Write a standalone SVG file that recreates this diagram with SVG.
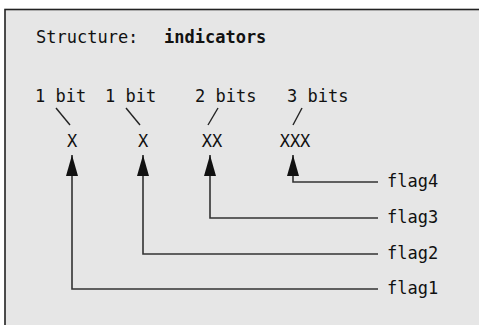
<svg xmlns="http://www.w3.org/2000/svg" width="479" height="325" viewBox="0 0 479 325">
<style>
text{font-family:"DejaVu Sans Mono","Liberation Mono",monospace;font-size:17px;fill:#111}
.b{font-weight:bold}
.l{stroke:#222;stroke-width:1.4;fill:none}
.c{stroke:#333;stroke-width:1.6;fill:none}
</style>
<defs>
<marker id="ah" viewBox="0 0 21 12" refX="21" refY="6" markerWidth="21" markerHeight="12" markerUnits="userSpaceOnUse" orient="auto">
<path d="M21 6 L0 0 L0 12 Z" fill="#111"/>
</marker>
</defs>
<rect x="0" y="0" width="479" height="325" fill="#fff"/>
<rect x="5" y="9.5" width="480" height="330" fill="#e6e6e6" stroke="#222" stroke-width="1.6"/>
<g id="title">
<text x="36" y="43">Structure:</text>
<text x="164" y="43" class="b">indicators</text>
</g>
<g id="field1"><text x="35" y="102">1 bit</text><line class="l" x1="56" y1="108" x2="70" y2="125"/><text x="72" y="147" text-anchor="middle">X</text></g>
<g id="field2"><text x="105" y="102">1 bit</text><line class="l" x1="126" y1="108" x2="140" y2="125"/><text x="143" y="147" text-anchor="middle">X</text></g>
<g id="field3"><text x="195" y="102">2 bits</text><line class="l" x1="218" y1="108" x2="208" y2="125"/><text x="212" y="147" text-anchor="middle">XX</text></g>
<g id="field4"><text x="287" y="102">3 bits</text><line class="l" x1="302" y1="108" x2="293" y2="125"/><text x="295" y="147" text-anchor="middle">XXX</text></g>
<g id="flag4"><text x="387" y="187">flag4</text></g>
<g id="flag3"><text x="387" y="223">flag3</text></g>
<g id="flag2"><text x="387" y="259">flag2</text></g>
<g id="flag1"><text x="387" y="294">flag1</text></g>
<g id="connectors">
<path class="c" d="M378 182 H293 V155" marker-end="url(#ah)"/>
<path class="c" d="M378 218 H210 V155" marker-end="url(#ah)"/>
<path class="c" d="M378 254 H143 V155" marker-end="url(#ah)"/>
<path class="c" d="M378 289 H72 V155" marker-end="url(#ah)"/>
</g>
</svg>
